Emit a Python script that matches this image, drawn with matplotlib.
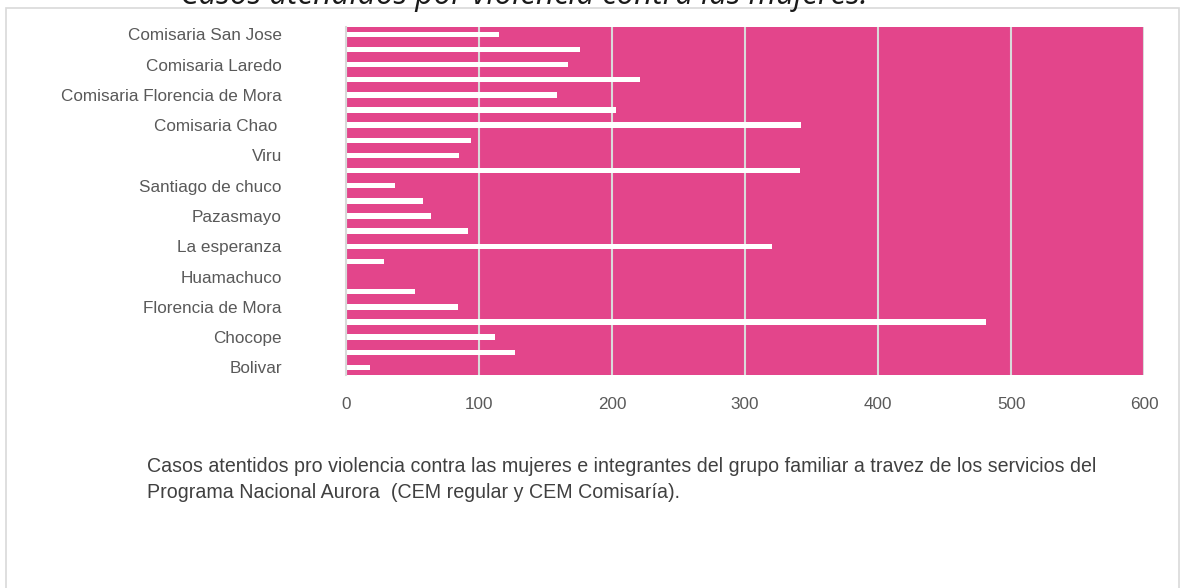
import matplotlib
from matplotlib import pyplot as plt
from matplotlib.patches import Rectangle

# bottom to top, Excel only shows every other label
labels = ["Bolivar", "", "Chocope", "", "Florencia de Mora", "", "Huamachuco", "",
          "La esperanza", "", "Pazasmayo", "", "Santiago de chuco", "", "Viru", "",
          "Comisaria Chao ", "", "Comisaria Florencia de Mora", "", "Comisaria Laredo", "",
          "Comisaria San Jose"]
casos = [18, 127, 112, 481, 84, 52, 0, 29, 320, 92, 64, 58, 37, 341, 85, 94,
         342, 203, 159, 221, 167, 176, 115]
xticks = [0, 100, 200, 300, 400, 500, 600]

titulo = "Casos atendidos por violencia contra las mujeres."
nota = ["Casos atentidos pro violencia contra las mujeres e integrantes del grupo familiar a travez de los servicios del",
        "Programa Nacional Aurora  (CEM regular y CEM Comisaría)."]

matplotlib.rcParams.update({'font.family': 'Liberation Sans', 'font.size': 12.3})

W, H = 1184, 588
fig = plt.figure(figsize=(W / 100, H / 100), dpi=100)

# light frame around the chart
fig.patches.append(Rectangle((6 / W, -0.1), (1179 - 6) / W, 1.1 - 8 / H,
                             transform=fig.transFigure, fill=False,
                             edgecolor="#D9D9D9", lw=1.2))

ax = fig.add_axes([345.7 / W, 1 - 375 / H, (1144.3 - 345.7) / W, (375 - 26.7) / H])
ax.set_facecolor("#E3458B")

pos = list(range(len(casos)))
ax.barh(pos, casos, height=0.36, color="white")

ax.set_xlim(0, 600)
ax.set_ylim(-0.5, len(casos) - 0.5)
ax.set_xticks(xticks)
ax.set_yticks(pos)
ax.set_yticklabels(labels)
ax.tick_params(axis="both", length=0, labelcolor="#595959")
ax.tick_params(axis="y", pad=46)
ax.tick_params(axis="x", pad=16)

ax.set_axisbelow(True)
ax.xaxis.grid(True, color="#D9D9D9", lw=1.5)
for s in ["top", "right", "bottom"]:
    ax.spines[s].set_visible(False)
ax.spines["left"].set_color("#D9D9D9")
ax.spines["left"].set_linewidth(1.5)

# title sits above the frame and is cut by the top edge
fig.text(523.5 / W, 1 - 4 / H, titulo, ha="center", va="baseline",
         fontsize=22.7, style="italic", family="Open Sans", color="#1a1a1a")

fig.text(147 / W, 1 - 472 / H, nota[0], ha="left", va="baseline",
         fontsize=14.1, color="#404040")
fig.text(147 / W, 1 - 497.5 / H, nota[1], ha="left", va="baseline",
         fontsize=14.1, color="#404040")

fig.savefig("out.png", dpi=100)
